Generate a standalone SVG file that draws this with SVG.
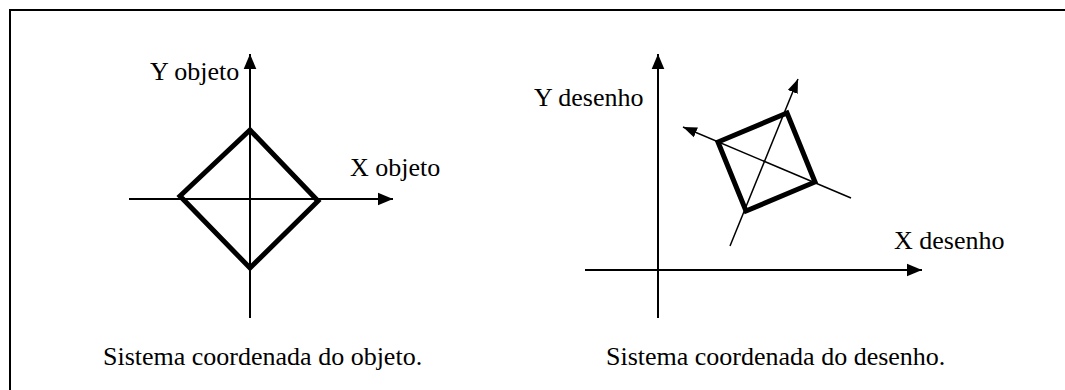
<svg xmlns="http://www.w3.org/2000/svg" width="1065" height="390" viewBox="0 0 1065 390">
<defs>
<style>
.ax{stroke:#000;stroke-width:2;fill:none}
.thin{stroke:#000;stroke-width:1.5;fill:none}
.sq{stroke:#000;stroke-width:5;fill:none;stroke-linejoin:miter}
.lbl{font-family:'Liberation Serif',serif;font-size:26px;fill:#000}
.cap{font-family:'Liberation Serif',serif;font-size:26px;fill:#000}
</style>
<marker id="arrL" viewBox="0 0 10 10" refX="10" refY="5" markerWidth="15" markerHeight="15" markerUnits="userSpaceOnUse" orient="auto">
<path d="M0,0.8 L10,5 L0,9.2 z" fill="#000"/>
</marker>
<marker id="arrS" viewBox="0 0 10 10" refX="10" refY="5" markerWidth="14" markerHeight="14" markerUnits="userSpaceOnUse" orient="auto">
<path d="M0,1.2 L10,5 L0,8.8 z" fill="#000"/>
</marker>
</defs>
<rect x="10" y="10" width="1080" height="420" fill="#fff" stroke="#000" stroke-width="2"/>
<g id="connectors">
<line class="ax" x1="250" y1="318" x2="250" y2="54" marker-end="url(#arrL)"/>
<line class="ax" x1="129" y1="199" x2="393" y2="199" marker-end="url(#arrL)"/>
<line class="ax" x1="658" y1="318" x2="658" y2="54" marker-end="url(#arrL)"/>
<line class="ax" x1="585" y1="270" x2="922" y2="270" marker-end="url(#arrL)"/>
<line class="thin" x1="730" y1="246" x2="798" y2="79" marker-end="url(#arrS)"/>
<line class="thin" x1="851" y1="198" x2="683" y2="127" marker-end="url(#arrS)"/>
</g>
<g id="square-objeto">
<polygon class="sq" points="250,130 318,201 250,268 180,196"/>
</g>
<g id="square-desenho">
<polygon class="sq" points="787,113 815,182 746,211 718,142"/>
</g>
<g id="labels">
<text class="lbl" x="150" y="80" font-family="Liberation Serif">Y objeto</text>
<text class="lbl" x="350" y="176" font-family="Liberation Serif">X objeto</text>
<text class="lbl" x="534" y="106" font-family="Liberation Serif">Y desenho</text>
<text class="lbl" x="894" y="249" font-family="Liberation Serif">X desenho</text>
<text class="cap" x="103" y="365" font-family="Liberation Serif">Sistema coordenada do objeto.</text>
<text class="cap" x="606" y="365" font-family="Liberation Serif">Sistema coordenada do desenho.</text>
</g>
</svg>
